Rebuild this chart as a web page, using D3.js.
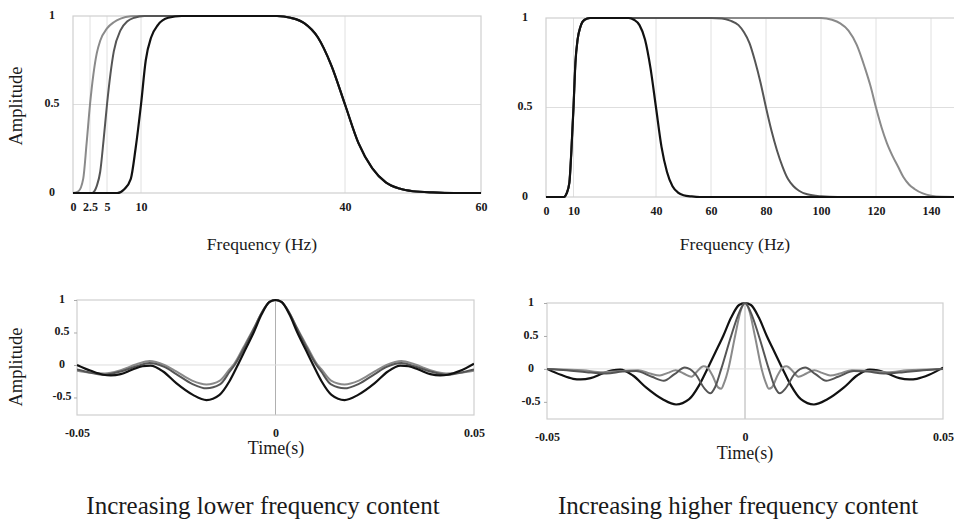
<!doctype html>
<html>
<head>
<meta charset="UTF-8">
<title>Filter responses</title>
<script src="https://cdn.jsdelivr.net/npm/d3@7"></script>
<style>
  body { margin: 0; background: #fff; }
  text { font-family: "Liberation Serif", "Times New Roman", serif; fill: #1a1a1a; }
  .tick text { font-weight: bold; font-size: 12px; font-family: "Liberation Serif", serif; }
</style>
</head>
<body>
<script>
// ---- frequency responses (Hz, amplitude) ----
var riseAt2_5 = [[0,0],[0.8,0.01],[1.5,0.08],[2,0.28],[2.5,0.5],[3,0.67],[3.5,0.79],[4,0.86],[5,0.93],[6,0.965],[7,0.985],[8.5,0.998],[10,1],[16,1]];
var riseAt5 = [[0,0],[2.8,0],[3.5,0.04],[4,0.12],[4.5,0.3],[5,0.5],[5.5,0.67],[6,0.8],[7,0.92],[8,0.97],[9,0.99],[10.5,1],[16,1]];
var riseAt10 = [[0,0],[6.5,0],[7.5,0.02],[8.5,0.08],[9.2,0.25],[10,0.5],[10.7,0.75],[11.5,0.88],[12.5,0.95],[14,0.99],[16,1]];
var fallAt40 = [[30,1],[32,0.99],[34,0.96],[36,0.88],[38,0.72],[40,0.5],[42,0.28],[44,0.14],[46,0.06],[48,0.025],[50,0.01],[53,0.003],[56,0],[150,0]];
var fallAt80 = [[60,1],[64,0.997],[67,0.985],[70,0.96],[72,0.92],[74,0.86],[76,0.76],[78,0.64],[80,0.5],[82,0.37],[84,0.26],[86,0.17],[88,0.1],[90,0.06],[92,0.035],[95,0.015],[100,0.004],[106,0],[150,0]];
var fallAt120 = [[100,1],[104,0.99],[107,0.97],[110,0.93],[113,0.85],[116,0.72],[118,0.62],[120,0.5],[122,0.39],[124,0.3],[126,0.23],[128,0.17],[130,0.11],[132,0.07],[134,0.045],[137,0.02],[140,0.007],[144,0.001],[150,0]];

// ---- impulse responses (s, amplitude) ----
var pulse10to40 = [[-0.05,0],[-0.0465,-0.09],[-0.0434,-0.15],[-0.0415,-0.16],[-0.039,-0.14],[-0.036,-0.07],[-0.0335,-0.02],[-0.0315,-0.01],[-0.0283,-0.1],[-0.025,-0.28],[-0.0208,-0.46],[-0.0174,-0.54],[-0.0141,-0.46],[-0.0116,-0.25],[-0.0095,0],[-0.0075,0.25],[-0.0055,0.5],[-0.0035,0.78],[-0.0015,0.97],[0,1],
  [0.0015,0.97],[0.0035,0.78],[0.0055,0.5],[0.0075,0.25],[0.0095,0],[0.0116,-0.25],[0.0141,-0.46],[0.0174,-0.54],[0.0208,-0.46],[0.025,-0.28],[0.0283,-0.1],[0.0315,-0.01],[0.0335,-0.02],[0.036,-0.07],[0.039,-0.14],[0.0415,-0.16],[0.0434,-0.15],[0.0465,-0.09],[0.05,0.02]];
var pulse5to40 = [[-0.05,-0.07],[-0.0465,-0.12],[-0.043,-0.15],[-0.039,-0.1],[-0.035,-0.02],[-0.0317,0.03],[-0.028,-0.03],[-0.025,-0.14],[-0.021,-0.29],[-0.0174,-0.36],[-0.014,-0.3],[-0.0115,-0.1],[-0.0103,0],[-0.008,0.25],[-0.0055,0.55],[-0.0035,0.8],[-0.0015,0.97],[0,1],
  [0.0015,0.97],[0.0035,0.8],[0.0055,0.55],[0.008,0.25],[0.0103,0],[0.0115,-0.1],[0.014,-0.3],[0.0174,-0.36],[0.021,-0.29],[0.025,-0.14],[0.028,-0.03],[0.0317,0.03],[0.035,-0.02],[0.039,-0.1],[0.043,-0.15],[0.0465,-0.12],[0.05,-0.07]];
var pulse2_5to40 = [[-0.05,-0.09],[-0.0465,-0.12],[-0.043,-0.13],[-0.039,-0.08],[-0.035,0.01],[-0.0317,0.06],[-0.028,0],[-0.025,-0.1],[-0.021,-0.24],[-0.0174,-0.3],[-0.014,-0.24],[-0.0115,-0.06],[-0.0105,0.01],[-0.008,0.28],[-0.0055,0.56],[-0.0035,0.8],[-0.0015,0.97],[0,1],
  [0.0015,0.97],[0.0035,0.8],[0.0055,0.56],[0.008,0.28],[0.0105,0.01],[0.0115,-0.06],[0.014,-0.24],[0.0174,-0.3],[0.021,-0.24],[0.025,-0.1],[0.028,0],[0.0317,0.06],[0.035,0.01],[0.039,-0.08],[0.043,-0.13],[0.0465,-0.12],[0.05,-0.09]];
var pulse10to80 = [[-0.05,0],[-0.045,-0.02],[-0.04,-0.05],[-0.035,-0.07],[-0.031,-0.04],[-0.0275,-0.03],[-0.0235,-0.12],[-0.0205,-0.18],[-0.0178,-0.08],[-0.0152,0.02],[-0.0125,-0.08],[-0.0102,-0.3],[-0.0088,-0.37],[-0.0075,-0.27],[-0.006,0],[-0.0035,0.5],[-0.0015,0.85],[0,1],
  [0.0015,0.85],[0.0035,0.5],[0.006,0],[0.0075,-0.27],[0.0088,-0.37],[0.0102,-0.3],[0.0125,-0.08],[0.0152,0.02],[0.0178,-0.08],[0.0205,-0.18],[0.0235,-0.12],[0.0275,-0.03],[0.031,-0.04],[0.035,-0.07],[0.04,-0.05],[0.045,-0.02],[0.05,0]];
var pulse10to120 = [[-0.05,0],[-0.046,-0.01],[-0.041,-0.02],[-0.036,-0.05],[-0.031,-0.03],[-0.027,-0.02],[-0.024,-0.07],[-0.0215,-0.1],[-0.0195,-0.06],[-0.0175,-0.02],[-0.0155,-0.07],[-0.0135,-0.12],[-0.012,-0.03],[-0.0105,0.04],[-0.0095,0.02],[-0.0082,-0.1],[-0.0068,-0.28],[-0.006,-0.3],[-0.0052,-0.2],[-0.0042,0],[-0.0025,0.5],[-0.001,0.9],[0,1],
  [0.001,0.9],[0.0025,0.5],[0.0042,0],[0.0052,-0.2],[0.006,-0.3],[0.0068,-0.28],[0.0082,-0.1],[0.0095,0.02],[0.0105,0.04],[0.012,-0.03],[0.0135,-0.12],[0.0155,-0.07],[0.0175,-0.02],[0.0195,-0.06],[0.0215,-0.1],[0.024,-0.07],[0.027,-0.02],[0.031,-0.03],[0.036,-0.05],[0.041,-0.02],[0.046,-0.01],[0.05,0]];

// ---- ticks / labels ----
var lowFreqTicks = [0, 2.5, 5, 10, 40, 60];
var highFreqTicks = [0, 10, 40, 60, 80, 100, 120, 140];
var ampTicks = [0, 0.5, 1];
var timeTicks = [-0.05, 0, 0.05];
var pulseAmpTicks = [-0.5, 0, 0.5, 1];
var captions = ["Increasing lower frequency content", "Increasing higher frequency content"];

var BLACK = "#111", MID = "#555", LIGHT = "#8a8a8a";
var SERIF = "'Liberation Serif', 'Times New Roman', serif";

var width = 954, height = 530;
var svg = d3.select("body").append("svg")
    .attr("width", width).attr("height", height);
svg.append("rect").attr("width", width).attr("height", height).attr("fill", "#fff");

function panel(o) {
    var x = d3.scaleLinear().domain(o.xDomain).range(o.xRange);
    var y = d3.scaleLinear().domain(o.yDomain).range(o.yRange);
    var g = svg.append("g");

    g.append("clipPath").attr("id", o.id)
        .append("rect")
        .attr("x", o.xRange[0]).attr("y", o.yRange[1] - 3)
        .attr("width", o.xRange[1] - o.xRange[0]).attr("height", o.yRange[0] - o.yRange[1] + 6);

    // grid
    g.selectAll("line.vg").data(o.vGrid).enter().append("line")
        .attr("x1", function(d){ return x(d); }).attr("x2", function(d){ return x(d); })
        .attr("y1", o.yRange[0]).attr("y2", o.yRange[1])
        .attr("stroke", o.vGridColor || "#e0e0e0").attr("stroke-width", 1);
    g.selectAll("line.hg").data(o.hGrid).enter().append("line")
        .attr("x1", o.xRange[0]).attr("x2", o.xRange[1])
        .attr("y1", function(d){ return y(d); }).attr("y2", function(d){ return y(d); })
        .attr("stroke", "#dedede").attr("stroke-width", 1);
    g.append("rect")
        .attr("x", o.xRange[0]).attr("y", o.yRange[1])
        .attr("width", o.xRange[1] - o.xRange[0]).attr("height", o.yRange[0] - o.yRange[1])
        .attr("fill", "none").attr("stroke", "#cfcfcf").attr("stroke-width", 1.2);

    // axes
    var xa = g.append("g").attr("transform", "translate(0," + o.yRange[0] + ")")
        .call(d3.axisBottom(x).tickValues(o.xTicks).tickSize(0).tickPadding(o.xPad)
            .tickFormat(function(d){ return String(d); }));
    xa.select(".domain").remove();
    xa.attr("font-family", SERIF);

    var ya = g.append("g").attr("transform", "translate(" + o.xRange[0] + ",0)")
        .call(d3.axisLeft(y).tickValues(o.yTicks).tickSize(o.yTickSize).tickPadding(0)
            .tickFormat(function(d){ return String(d); }));
    ya.select(".domain").remove();
    ya.attr("font-family", SERIF);
    ya.selectAll(".tick line").attr("stroke", "#aaa");
    ya.selectAll(".tick text").attr("text-anchor", "middle").attr("x", -o.yLabelOff).attr("dy", "0.2em");

    var line = d3.line()
        .x(function(d){ return x(d[0]); })
        .y(function(d){ return y(d[1]); })
        .curve(d3.curveMonotoneX);

    g.append("g").attr("clip-path", "url(#" + o.id + ")")
        .selectAll("path").data(o.series).enter().append("path")
        .attr("d", function(d){ return line(d.pts); })
        .attr("fill", "none")
        .attr("stroke", function(d){ return d.color; })
        .attr("stroke-width", function(d){ return d.w || 2; })
        .attr("stroke-linejoin", "round");

    return g;
}

// top left
panel({
    id: "c1", xDomain: [0, 60], xRange: [73, 481], yDomain: [0, 1], yRange: [193, 16],
    vGrid: [2.5, 5, 10, 40], hGrid: [0.5], xTicks: lowFreqTicks, yTicks: ampTicks,
    xPad: 9, yTickSize: 0, yLabelOff: 21,
    series: [
        { pts: riseAt2_5.concat(fallAt40), color: LIGHT },
        { pts: riseAt5.concat(fallAt40), color: MID },
        { pts: riseAt10.concat(fallAt40), color: BLACK, w: 2.2 }
    ]
});

// top right
panel({
    id: "c2", xDomain: [0, 150], xRange: [546, 958.5], yDomain: [0, 1], yRange: [197, 18],
    vGrid: [10, 40, 60, 80, 100, 120, 140], hGrid: [0.5], xTicks: highFreqTicks, yTicks: ampTicks,
    xPad: 9, yTickSize: 0, yLabelOff: 21,
    series: [
        { pts: riseAt10.concat(fallAt120), color: LIGHT },
        { pts: riseAt10.concat(fallAt80), color: MID },
        { pts: riseAt10.concat(fallAt40), color: BLACK, w: 2.2 }
    ]
});

// bottom left
panel({
    id: "c3", xDomain: [-0.05, 0.05], xRange: [77, 474], yDomain: [-0.77, 1], yRange: [415, 300],
    vGrid: [0], vGridColor: "#b0b0b0", hGrid: [0], xTicks: timeTicks, yTicks: pulseAmpTicks,
    xPad: 13, yTickSize: 3, yLabelOff: 15,
    series: [
        { pts: pulse2_5to40, color: LIGHT },
        { pts: pulse5to40, color: MID },
        { pts: pulse10to40, color: BLACK, w: 2.2 }
    ]
});

// bottom right
panel({
    id: "c4", xDomain: [-0.05, 0.05], xRange: [547, 943], yDomain: [-0.76, 1], yRange: [419, 303],
    vGrid: [0], vGridColor: "#b0b0b0", hGrid: [0], xTicks: timeTicks, yTicks: pulseAmpTicks,
    xPad: 13, yTickSize: 3, yLabelOff: 16,
    series: [
        { pts: pulse10to40, color: BLACK, w: 2.2 },
        { pts: pulse10to120, color: LIGHT },
        { pts: pulse10to80, color: MID }
    ]
});

// axis titles and captions
function label(txt, x, y, size, rot) {
    svg.append("text")
        .attr("transform", "translate(" + x + "," + y + ")" + (rot ? " rotate(-90)" : ""))
        .attr("text-anchor", "middle")
        .attr("dominant-baseline", "middle")
        .attr("font-family", SERIF)
        .style("font-size", size + "px")
        .text(txt);
}
label("Amplitude", 18, 106, 18.5, true);
label("Amplitude", 18, 367, 18.5, true);
label("Frequency (Hz)", 262, 246, 17.5);
label("Frequency (Hz)", 735, 246, 17.5);
label("Time(s)", 276, 450, 18);
label("Time(s)", 745, 455, 18);
label(captions[0], 263, 508, 25);
label(captions[1], 738, 508, 25);
</script>
</body>
</html>
